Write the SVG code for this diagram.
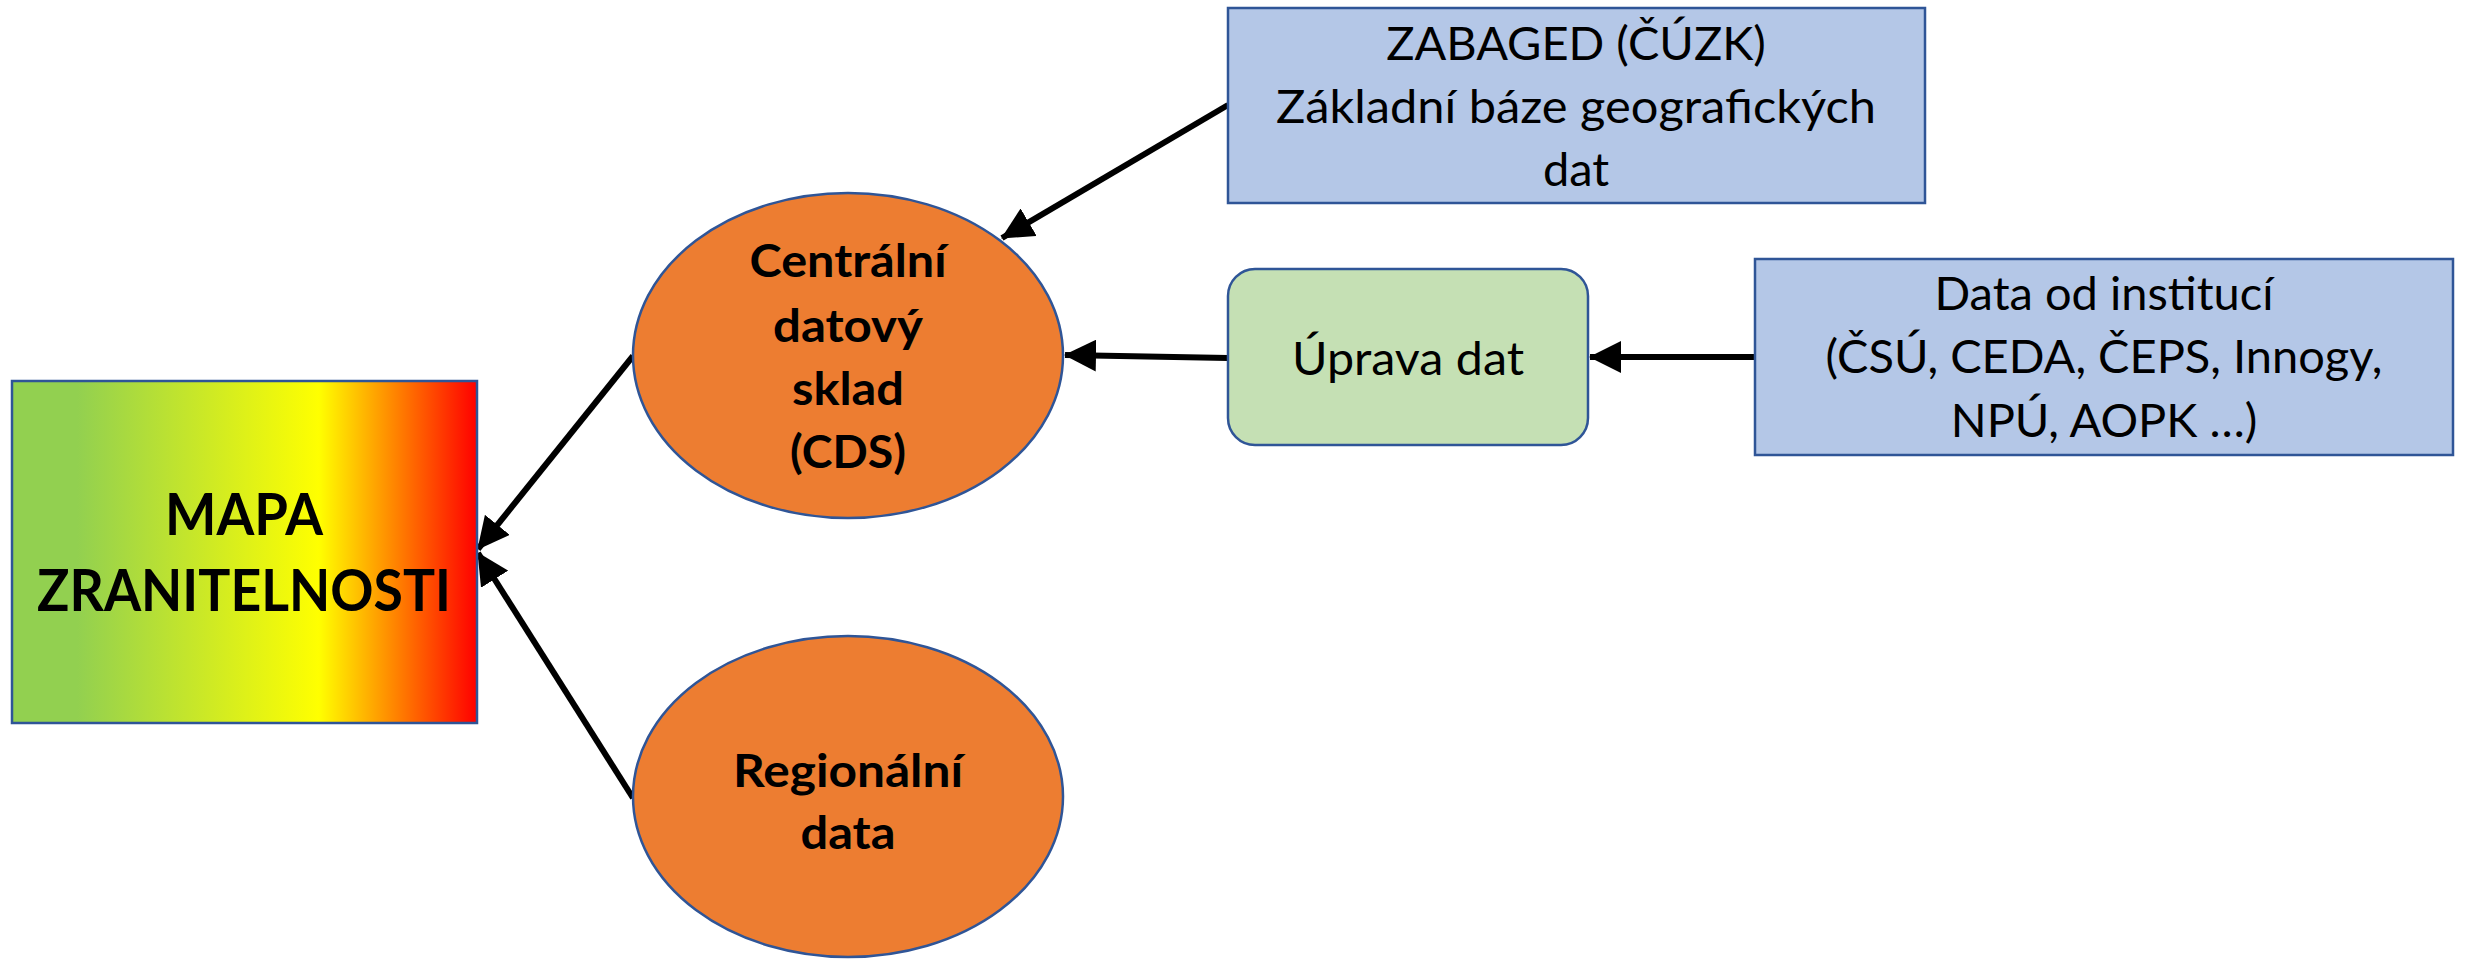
<svg xmlns="http://www.w3.org/2000/svg" width="2466" height="960" viewBox="0 0 2466 960">
<style>
.lbl{font-family:Lato,"Open Sans","Liberation Sans",sans-serif;fill:#000;text-anchor:middle}
.b{font-weight:bold}
.reg{font-size:47px}
.bold44{font-size:46px;font-weight:bold}
.shape{stroke:#2F5597;stroke-width:2.5}
.conn{stroke:#000;stroke-width:6;fill:none;marker-end:url(#arr)}
</style>
<defs>
<linearGradient id="grad" x1="0" y1="0" x2="1" y2="0">
<stop offset="0" stop-color="#92D050"/>
<stop offset="0.14" stop-color="#92D050"/>
<stop offset="0.66" stop-color="#FFFF00"/>
<stop offset="1" stop-color="#FF0000"/>
</linearGradient>
<marker id="arr" markerUnits="userSpaceOnUse" markerWidth="32" markerHeight="32" refX="31" refY="16" orient="auto" viewBox="0 0 32 32">
<path d="M0,0 L32,16 L0,32 z" fill="#000"/>
</marker>
</defs>
<rect width="2466" height="960" fill="#fff"/>
<g id="connectors">
<line class="conn" x1="1755" y1="357" x2="1590" y2="357"/>
<line class="conn" x1="1228" y1="358" x2="1065" y2="355"/>
<line class="conn" x1="1228" y1="105" x2="1002" y2="238"/>
<line class="conn" x1="633" y1="356" x2="478" y2="549"/>
<line class="conn" x1="633" y1="798" x2="478" y2="553"/>
</g>
<g id="mapa">
<rect class="shape" x="12" y="381" width="465" height="342" fill="url(#grad)"/>
<text class="lbl b" font-size="57" x="244" y="535" textLength="158" lengthAdjust="spacingAndGlyphs">MAPA</text>
<text class="lbl b" font-size="57" x="244" y="611" textLength="414" lengthAdjust="spacingAndGlyphs">ZRANITELNOSTI</text>
</g>
<g id="cds">
<ellipse class="shape" cx="848" cy="355.5" rx="215" ry="162.5" fill="#ED7D31"/>
<text class="lbl bold44" x="848" y="277" textLength="197" lengthAdjust="spacingAndGlyphs">Centrální</text>
<text class="lbl bold44" x="848" y="342" textLength="150" lengthAdjust="spacingAndGlyphs">datový</text>
<text class="lbl bold44" x="848" y="405" textLength="112" lengthAdjust="spacingAndGlyphs">sklad</text>
<text class="lbl bold44" x="848" y="468" textLength="116" lengthAdjust="spacingAndGlyphs">(CDS)</text>
</g>
<g id="regionalni">
<ellipse class="shape" cx="848" cy="796.5" rx="215" ry="160.5" fill="#ED7D31"/>
<text class="lbl bold44" x="848" y="787" textLength="230" lengthAdjust="spacingAndGlyphs">Regionální</text>
<text class="lbl bold44" x="848" y="849" textLength="95" lengthAdjust="spacingAndGlyphs">data</text>
</g>
<g id="zabaged">
<rect class="shape" x="1228" y="8" width="697" height="195" fill="#B4C7E7"/>
<text class="lbl reg" x="1576" y="60">ZABAGED (ČÚZK)</text>
<text class="lbl reg" x="1576" y="123" textLength="600" lengthAdjust="spacingAndGlyphs">Základní báze geografických</text>
<text class="lbl reg" x="1576" y="186">dat</text>
</g>
<g id="uprava">
<rect class="shape" x="1228" y="269" width="360" height="176" rx="27" ry="27" fill="#C5E0B4"/>
<text class="lbl reg" x="1408" y="375" textLength="232" lengthAdjust="spacingAndGlyphs">Úprava dat</text>
</g>
<g id="data">
<rect class="shape" x="1755" y="259" width="698" height="196" fill="#B4C7E7"/>
<text class="lbl reg" x="2104" y="310">Data od institucí</text>
<text class="lbl reg" x="2104" y="373">(ČSÚ, CEDA, ČEPS, Innogy,</text>
<text class="lbl reg" x="2104" y="437">NPÚ, AOPK …)</text>
</g>
</svg>
